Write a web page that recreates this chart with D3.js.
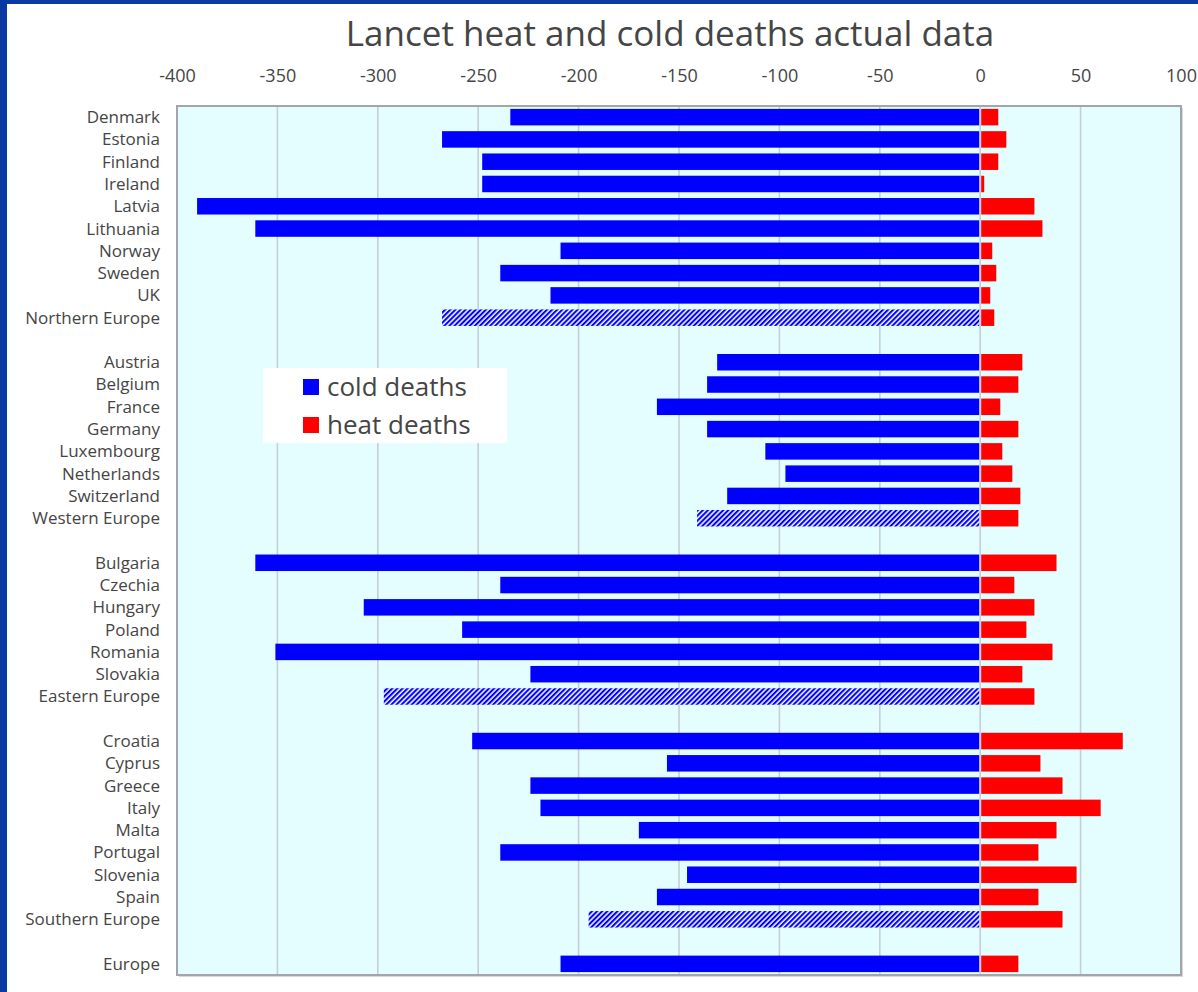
<!DOCTYPE html>
<html>
<head>
<meta charset="utf-8">
<script src="https://cdn.jsdelivr.net/npm/d3@7"></script>
<style>
  html, body { margin: 0; padding: 0; background: #ffffff; }
  svg { display: block; }
</style>
</head>
<body>
<svg id="chart" width="1198" height="992"></svg>
<script>
// ---------------- data ----------------
const chartTitle = "Lancet heat and cold deaths actual data";
const categories = [
  "Denmark", "Estonia", "Finland", "Ireland", "Latvia", "Lithuania", "Norway", "Sweden", "UK", "Northern Europe",
  "",
  "Austria", "Belgium", "France", "Germany", "Luxembourg", "Netherlands", "Switzerland", "Western Europe",
  "",
  "Bulgaria", "Czechia", "Hungary", "Poland", "Romania", "Slovakia", "Eastern Europe",
  "",
  "Croatia", "Cyprus", "Greece", "Italy", "Malta", "Portugal", "Slovenia", "Spain", "Southern Europe",
  "",
  "Europe"
];
const coldDeaths = [
  -234, -268, -248, -248, -390, -361, -209, -239, -214, -268,
  null,
  -131, -136, -161, -136, -107, -97, -126, -141,
  null,
  -361, -239, -307, -258, -351, -224, -297,
  null,
  -253, -156, -224, -219, -170, -239, -146, -161, -195,
  null,
  -209
];
const heatDeaths = [
  9, 13, 9, 2, 27, 31, 6, 8, 5, 7,
  null,
  21, 19, 10, 19, 11, 16, 20, 19,
  null,
  38, 17, 27, 23, 36, 21, 27,
  null,
  71, 30, 41, 60, 38, 29, 48, 29, 41,
  null,
  19
];
const regionalAverages = ["Northern Europe", "Western Europe", "Eastern Europe", "Southern Europe"];
const xTicks = [-400, -350, -300, -250, -200, -150, -100, -50, 0, 50, 100];
const seriesNames = ["cold deaths", "heat deaths"];
const seriesColors = ["#0000ff", "#ff0000"];

// ---------------- drawing ----------------
const svg = d3.select("#chart");
const W = 1198, H = 992;
const plot = { left: 177, right: 1181, top: 106, bottom: 975 };
const textColor = "#454545";
const font = "'Open Sans', 'DejaVu Sans', sans-serif";

// outer frame (blue band top and left)
svg.append("rect").attr("x", 0).attr("y", 0).attr("width", W).attr("height", H).attr("fill", "#ffffff");
svg.append("rect").attr("x", 0).attr("y", 0).attr("width", W).attr("height", 4).attr("fill", "#0a39a3");
svg.append("rect").attr("x", 0).attr("y", 0).attr("width", 7).attr("height", H).attr("fill", "#0a39a3");

const defs = svg.append("defs");
const pat = defs.append("pattern")
  .attr("id", "hatch")
  .attr("patternUnits", "userSpaceOnUse")
  .attr("width", 3.6).attr("height", 3.6)
  .attr("patternTransform", "rotate(45)");
pat.append("rect").attr("width", 3.6).attr("height", 3.6).attr("fill", "#eef2ff");
pat.append("rect").attr("x", 0).attr("y", 0).attr("width", 2).attr("height", 3.6).attr("fill", "#0000ff");

const x = d3.scaleLinear().domain([-400, 100]).range([plot.left, plot.right]);
const y = d3.scaleBand()
  .domain(d3.range(categories.length))
  .range([plot.top, plot.bottom])
  .paddingInner(0.26)
  .paddingOuter(0.13);

// plot background with shadow
svg.append("rect")
  .attr("x", plot.left + 2).attr("y", plot.top + 2)
  .attr("width", plot.right - plot.left).attr("height", plot.bottom - plot.top)
  .attr("fill", "#d8d8d8");
svg.append("rect")
  .attr("x", plot.left).attr("y", plot.top)
  .attr("width", plot.right - plot.left).attr("height", plot.bottom - plot.top)
  .attr("fill", "#e4fdff");

// gridlines
svg.append("g").selectAll("line")
  .data(xTicks.filter(t => t > -400 && t < 100))
  .join("line")
  .attr("x1", d => x(d)).attr("x2", d => x(d))
  .attr("y1", plot.top).attr("y2", plot.bottom)
  .attr("stroke", "#c6cfd6").attr("stroke-width", 1.6);

// rows
const rows = categories.map((c, i) => ({ i, name: c, cold: coldDeaths[i], heat: heatDeaths[i] }))
  .filter(d => d.name !== "");

// cold bars
svg.append("g").selectAll("rect")
  .data(rows)
  .join("rect")
  .attr("x", d => x(d.cold))
  .attr("y", d => y(d.i))
  .attr("width", d => x(0) - 1 - x(d.cold))
  .attr("height", y.bandwidth())
  .attr("fill", d => regionalAverages.includes(d.name) ? "url(#hatch)" : seriesColors[0]);

// heat bars
svg.append("g").selectAll("rect")
  .data(rows)
  .join("rect")
  .attr("x", x(0) + 1)
  .attr("y", d => y(d.i))
  .attr("width", d => x(d.heat) - x(0) - 1)
  .attr("height", y.bandwidth())
  .attr("fill", seriesColors[1]);

// plot border
svg.append("rect")
  .attr("x", plot.left).attr("y", plot.top)
  .attr("width", plot.right - plot.left).attr("height", plot.bottom - plot.top)
  .attr("fill", "none").attr("stroke", "#a2a6aa").attr("stroke-width", 2);

// category labels
svg.append("g").selectAll("text")
  .data(rows)
  .join("text")
  .attr("x", 160)
  .attr("y", d => y(d.i) + y.bandwidth() / 2)
  .attr("dy", "0.35em")
  .attr("text-anchor", "end")
  .attr("font-family", font)
  .attr("font-size", 17)
  .attr("fill", textColor)
  .text(d => d.name);

// top axis (labels only)
const axis = d3.axisTop(x).tickValues(xTicks).tickSize(0).tickPadding(0).tickFormat(d => String(d));
const gAxis = svg.append("g").attr("transform", `translate(0, 82)`).call(axis);
gAxis.select(".domain").remove();
gAxis.selectAll("text")
  .attr("font-family", font)
  .attr("font-size", 18)
  .attr("fill", textColor)
  .attr("dy", 0);

// title
svg.append("text")
  .attr("x", 670).attr("y", 46)
  .attr("text-anchor", "middle")
  .attr("font-family", font)
  .attr("font-size", 35)
  .attr("fill", "#454545")
  .text(chartTitle);

// legend
const lg = svg.append("g");
lg.append("rect").attr("x", 263).attr("y", 368).attr("width", 244).attr("height", 75).attr("fill", "#ffffff");
seriesNames.forEach((name, k) => {
  const cy = 387 + k * 38;
  lg.append("rect").attr("x", 303).attr("y", cy - 8).attr("width", 16).attr("height", 16).attr("fill", seriesColors[k]);
  lg.append("text").attr("x", 327).attr("y", cy).attr("dy", "0.35em")
    .attr("font-family", font).attr("font-size", 26).attr("fill", textColor).text(name);
});
</script>
</body>
</html>
